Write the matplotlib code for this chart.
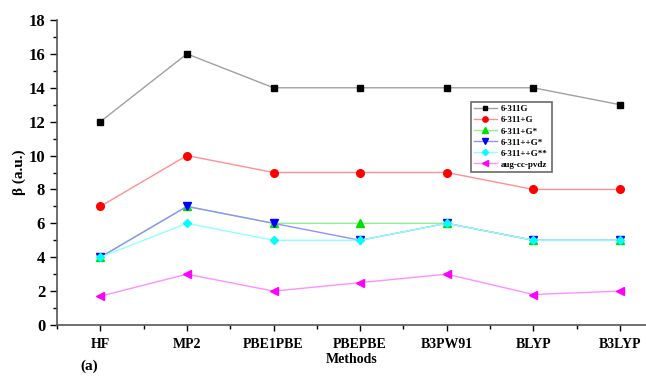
import matplotlib
matplotlib.use("Agg")
import matplotlib.pyplot as plt
from matplotlib.ticker import MultipleLocator

methods = ["HF", "MP2", "PBE1PBE", "PBEPBE", "B3PW91", "BLYP", "B3LYP"]
s_6311G = [12, 16, 14, 14, 14, 14, 13]
s_6311pG = [7, 10, 9, 9, 9, 8, 8]
s_6311pGs = [4, 7, 6, 6, 6, 5, 5]
s_6311ppGs = [4, 7, 6, 5, 6, 5, 5]
s_6311ppGss = [4, 6, 5, 5, 6, 5, 5]
s_aug = [1.7, 3, 2, 2.5, 3, 1.8, 2]

series = [
    ("6-311G", s_6311G, "black", "#a0a0a0", "s", 4.5),
    ("6-311+G", s_6311pG, "red", "#ff9090", "o", 5.5),
    ("6-311+G*", s_6311pGs, "#00e000", "#90f090", "^", 5.5),
    ("6-311++G*", s_6311ppGs, "blue", "#9090ff", "v", 5.5),
    ("6-311++G**", s_6311ppGss, "cyan", "#90ffff", "D", 4.5),
    ("aug-cc-pvdz", s_aug, "magenta", "#ff90ff", "<", 5.5),
]

plt.rcParams['font.family'] = ['Liberation Serif', 'DejaVu Serif']
plt.rcParams['font.weight'] = 'bold'

fig = plt.figure(figsize=(6.46, 3.76), dpi=100)
ax = fig.add_axes([57/646, 1-325/376, 1-57/646, (325-20)/376])
x = list(range(1, len(methods)+1))
for name, vals, mc, lc, mk, ms in series:
    ax.plot(x, vals, color=lc, lw=1.0, marker=mk, markersize=ms,
            markerfacecolor=mc, markeredgecolor=mc, label=name)

ax.set_xlim(0.5, 7.3)
ax.set_ylim(0, 18)
ax.set_xticks(x)
ax.set_xticklabels(methods, fontsize=10, fontweight='bold')
ax.xaxis.set_minor_locator(MultipleLocator(0.5))
ax.yaxis.set_major_locator(MultipleLocator(2))
ax.yaxis.set_minor_locator(MultipleLocator(1))
ax.tick_params(axis='y', labelsize=12, direction='out', length=5, width=1)
ax.tick_params(axis='x', direction='out', length=4, width=1, pad=5)
ax.tick_params(which='minor', direction='out', length=3, width=1)
for lab in ax.get_yticklabels():
    lab.set_fontweight('bold')
ax.spines['top'].set_visible(False)
ax.spines['right'].set_visible(False)
ax.spines['left'].set_color('#555555')
ax.spines['bottom'].set_color('#555555')
ax.spines['left'].set_linewidth(1.2)
ax.spines['bottom'].set_linewidth(1.2)
ax.set_ylabel("β (a.u.)", fontsize=11, fontweight='bold', labelpad=2)
ax.set_xlabel("Methods", fontsize=10, fontweight='bold', labelpad=2)
fig.text(80/646, 1-366/376, "(a)", fontsize=11, fontweight='bold', va='center')

leg = ax.legend(loc='upper left', bbox_to_anchor=((466-57)/(646-57), 1-(97-20)/305),
                fontsize=6.5, frameon=True, fancybox=False, edgecolor='#444444',
                handlelength=2.5, labelspacing=0.3, borderpad=0.4, handletextpad=0.5,
                markerscale=0.7)
leg.get_frame().set_linewidth(1.2)
for t in leg.get_texts():
    t.set_fontweight('bold')

fig.savefig("out.png", dpi=100)
